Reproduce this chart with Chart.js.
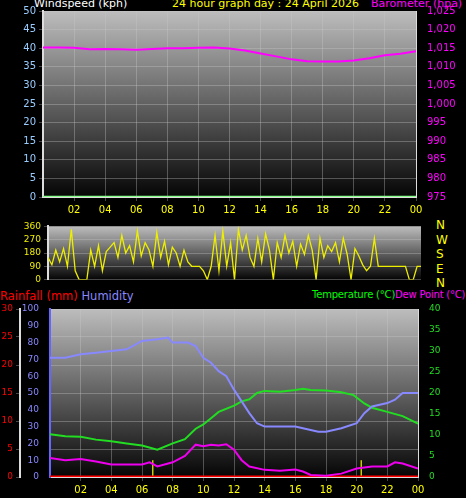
<!DOCTYPE html>
<html><head><meta charset="utf-8">
<script src="https://cdn.jsdelivr.net/npm/chart.js@4"></script>
<style>
body{margin:0;background:#000;width:466px;height:498px;overflow:hidden;position:relative;font-family:"DejaVu Sans",sans-serif}
canvas{position:absolute;left:0}
.t{position:absolute;font-size:11px;white-space:nowrap}
</style></head><body>
<div class="t" style="left:34px;top:-3px;color:#fff">Windspeed (kph)</div>
<div class="t" style="left:172px;top:-3px;color:#ff0">24 hour graph day : 24 April 2026</div>
<div class="t" style="left:371px;top:-3px;color:#f0f">Barometer (hpa)</div>
<div class="t" style="left:436px;top:218px;color:#ff0;line-height:14.5px;font-size:12px">N<br>W<br>S<br>E<br>N</div>
<div class="t" style="left:0px;top:289px;color:#f00;font-size:11.5px">Rainfall (mm) <span style="color:#88f">Humidity</span></div>
<div class="t" style="left:312px;top:289px;color:#0f0;font-size:10px;letter-spacing:-0.2px">Temperature (°C)<span style="color:#f0f">Dew Point (°C)</span></div>
<canvas id="c1" width="466" height="218" style="top:0"></canvas>
<canvas id="c2" width="466" height="70" style="top:218px"></canvas>
<canvas id="c3" width="466" height="198" style="top:300px"></canvas>
<script>
var hourTicks=[2,4,6,8,10,12,14,16,18,20,22,24];
var baroTimes=[0,1,2,3,4,5,6,7,8,9,10,11,12,13,14,15,16,17,18,19,20,21,22,23,24];
var baroVals=[1015.2,1015.2,1015.1,1014.7,1014.8,1014.7,1014.6,1014.8,1015,1015,1015.1,1015.2,1014.9,1014.4,1013.6,1012.8,1012.0,1011.5,1011.4,1011.4,1011.7,1012.3,1013.1,1013.5,1014.2];
var windSpeed=[0,0];
var windDir=[150,100,200,120,210,90,340,60,0,0,0,200,90,230,60,190,220,250,150,300,180,230,120,330,160,250,200,90,320,150,260,100,220,180,90,200,120,90,90,90,60,0,90,300,60,330,90,250,0,340,200,300,150,90,280,120,310,200,0,250,150,300,180,260,90,240,170,300,200,0,280,150,230,190,250,120,280,170,0,210,160,100,60,90,280,90,90,90,90,90,90,90,90,0,0,90,90];
var humTimes=[0,1,2,3,4,5,6,7,7.7,8,9,9.5,10,10.5,11,11.5,12,12.5,13,13.5,14,15,16,17,17.5,18,19,20,20.5,21,22,22.5,23,24];
var humVals=[71,71,73,74,75,76,81,82,83,80,80,78,71,68,63,60,52,45,38,32,30,30,30,28,27,27,29,32,38,42,44,46,50,50];
var tempTimes=[0,1,2,3,4,5,6,7,8,8.8,9.5,10,10.5,11,12,12.5,13,13.5,14,15,16,16.5,17,18,19,19.8,20.5,21,22,23,24];
var tempVals=[10.2,9.7,9.6,8.9,8.5,8,7.5,6.5,8,9,11.5,12.5,14,15.5,17,18,18.5,20,20.5,20.3,20.7,21,20.7,20.6,20.2,19.5,17.5,16.5,15.5,14.5,12.7];
var dewTimes=[0,1,2,3,4,5,6,6.5,7,8,8.8,9.5,10,10.5,11,11.5,12,12.5,13,14,15,16,16.5,17,18,19,20,21,22,22.5,23,24];
var dewVals=[4.5,4,4.3,3.7,3,3,3,3.5,2.5,3.5,5,7.7,7.3,7.7,7.5,7.8,6.5,4,2.5,1.7,1.5,1.8,1.3,0.5,0.3,0.8,2,2.5,2.5,3.5,3.2,2];
var rainVals=[0,0];
var markerTimes=[6.7,20.3];

var bg={id:'bg',beforeDraw:function(c){var a=c.chartArea,x=c.ctx;var g=x.createLinearGradient(0,a.top,0,a.bottom);g.addColorStop(0,'#bdbdbd');g.addColorStop(1,'#050505');x.fillStyle=g;x.fillRect(a.left,a.top,a.right-a.left,a.bottom-a.top);}};
function pts(t,v){var o=[];for(var i=0;i<t.length;i++){o.push({x:t[i],y:v[i]});}return o;}
function fw(w){return function(s){s.width=w;};}
function fh(h){return function(s){s.height=h;};}
var grid={color:'rgba(200,200,200,0.35)',borderDash:[1,2],tickLength:4};
function xAxis(show){return {type:'linear',min:0,max:24,afterFit:fh(show?21:0),display:show,
  afterBuildTicks:function(s){s.ticks=hourTicks.map(function(v){return {value:v};});},
  ticks:{color:'#ff0',font:{size:10},maxRotation:0,callback:function(v){var s=String(v%24);return s.length<2?'0'+s:s;}},
  grid:grid,border:{color:'#ddd',width:2}};}
Chart.defaults.animation=false;Chart.defaults.font.family='DejaVu Sans';
function opts(pad,scales){return {responsive:false,events:[],layout:{padding:pad},plugins:{legend:{display:false},tooltip:{enabled:false}},scales:scales};}
function ln(data,col,axis,w){return {data:data,borderColor:col,yAxisID:axis,borderWidth:w||1.5,pointRadius:0,tension:0};}

new Chart('c1',{type:'line',plugins:[bg],data:{datasets:[
 ln(pts(baroTimes,baroVals),'#f0f','yb',2),
 ln(pts([0,24],windSpeed),'#8f8','yw',2.5)]},
 options:opts({top:11},{x:xAxis(true),
  yw:{position:'left',min:0,max:50,afterFit:fw(43),ticks:{stepSize:5,color:'#9cf',font:{size:10}},grid:grid,border:{color:'#ddd',width:2}},
  yb:{position:'right',min:975,max:1025,afterFit:fw(50),ticks:{stepSize:5,color:'#f0f',font:{size:10}},grid:{display:false},border:{color:'#ddd'}}})});

var dirPts=windDir.map(function(v,i){return {x:i*24/(windDir.length-1),y:v};});
new Chart('c2',{type:'line',plugins:[bg],data:{datasets:[ln(dirPts,'#ee0','yd',1.3)]},
 options:opts({top:5,bottom:7},{x:xAxis(false),
  yd:{position:'left',min:0,max:360,afterFit:fw(48),ticks:{stepSize:90,color:'#ee0',font:{size:9}},grid:grid,border:{color:'#ddd',width:2}},
  yr:{position:'right',min:0,max:360,afterFit:fw(45),ticks:{display:false},grid:{display:false},border:{display:false}}})});

new Chart('c3',{type:'line',plugins:[bg],data:{datasets:[
 ln(pts(humTimes,humVals),'#88f','yh',2),
 ln(pts(tempTimes,tempVals),'#2d2','yt',2),
 ln(pts(dewTimes,dewVals),'#e0e','yt',2),
 ln(pts([0,24],rainVals),'#f00','yr',3),
 ln([{x:markerTimes[0],y:0},{x:markerTimes[0],y:4}],'#cc0','yt',1.5),
 ln([{x:markerTimes[1],y:0},{x:markerTimes[1],y:4}],'#cc0','yt',1.5)]},
 options:opts({top:9},{x:xAxis(true),
  yh:{position:'left',min:0,max:100,afterFit:fw(30),ticks:{stepSize:10,color:'#88f',font:{size:9}},grid:{display:false},border:{color:'#66f',width:2}},
  yr:{position:'left',min:0,max:30,afterFit:fw(20),ticks:{stepSize:5,color:'#f00',font:{size:9}},grid:grid,border:{color:'#ddd',width:2}},
  yt:{position:'right',min:0,max:40,afterFit:fw(48),ticks:{stepSize:5,color:'#2d2',font:{size:9}},grid:{display:false},border:{color:'#ddd'}}})});
</script></body></html>
